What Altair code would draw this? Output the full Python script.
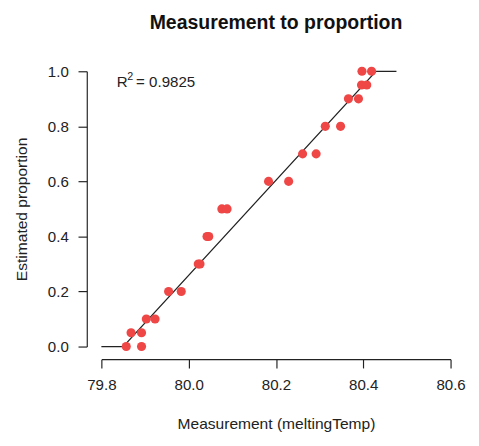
import altair as alt
import pandas as pd

# Observed measurements and their estimated proportions
measurement = [79.857, 79.892, 79.868, 79.892, 79.903, 79.923, 79.954, 79.983,
               80.022, 80.026, 80.042, 80.046, 80.076, 80.088, 80.183, 80.229,
               80.261, 80.292, 80.313, 80.348, 80.366, 80.389, 80.396, 80.408,
               80.397, 80.419]
proportion = [0.0, 0.0, 0.05, 0.05, 0.1, 0.1, 0.2, 0.2, 0.3, 0.3, 0.4, 0.4,
              0.5, 0.5, 0.6, 0.6, 0.7, 0.7, 0.8, 0.8, 0.9, 0.9, 0.95, 0.95,
              1.0, 1.0]

# Fitted (clipped linear) relation
fit_x = [79.80, 79.850, 80.429, 80.476]
fit_y = [0.0, 0.0, 1.0, 1.0]

x_ticks = [79.8, 80.0, 80.2, 80.4, 80.6]
y_ticks = [0.0, 0.2, 0.4, 0.6, 0.8, 1.0]
r2_value = "0.9825"
r2_pos = (79.835, 0.942)

pts = pd.DataFrame({"m": measurement, "p": proportion})
fit = pd.DataFrame({"m": fit_x, "p": fit_y})
anno = pd.DataFrame({"m": [r2_pos[0]], "p": [r2_pos[1]]})

FONT = "Liberation Sans"
FS = 15.5

xscale = alt.Scale(domain=[x_ticks[0], x_ticks[-1]], nice=False, zero=False)
yscale = alt.Scale(domain=[y_ticks[0], y_ticks[-1]], nice=False, zero=False)

xaxis = alt.Axis(title="Measurement (meltingTemp)", values=x_ticks, format=".1f",
                 offset=13, grid=False, tickSize=9, labelPadding=10,
                 titlePadding=24)
yaxis = alt.Axis(title="Estimated proportion", values=y_ticks, format=".1f",
                 offset=15, grid=False, tickSize=9, labelPadding=10,
                 titlePadding=18)

points = alt.Chart(pts).mark_circle(size=88, color="#EF4646", opacity=1).encode(
    x=alt.X("m:Q", scale=xscale, axis=xaxis),
    y=alt.Y("p:Q", scale=yscale, axis=yaxis),
)

line = alt.Chart(fit).mark_line(color="#222222", strokeWidth=1.3).encode(
    x=alt.X("m:Q", scale=xscale),
    y=alt.Y("p:Q", scale=yscale),
)

r_text = alt.Chart(anno).mark_text(
    text="R", align="left", baseline="alphabetic", font=FONT, fontSize=FS,
    color="#222222"
).encode(x=alt.X("m:Q", scale=xscale), y=alt.Y("p:Q", scale=yscale))

sup_text = alt.Chart(anno).mark_text(
    text="2", align="left", baseline="alphabetic", font=FONT, fontSize=11,
    color="#222222", dx=11, dy=-7
).encode(x=alt.X("m:Q", scale=xscale), y=alt.Y("p:Q", scale=yscale))

val_text = alt.Chart(anno).mark_text(
    text="= " + r2_value, align="left", baseline="alphabetic", font=FONT,
    fontSize=FS, color="#222222", dx=20
).encode(x=alt.X("m:Q", scale=xscale), y=alt.Y("p:Q", scale=yscale))

chart = alt.layer(line, points, r_text, sup_text, val_text).properties(
    width=359, height=283,
    title=alt.TitleParams("Measurement to proportion", font=FONT, fontSize=20,
                          fontWeight="bold", color="#111111", anchor="middle",
                          offset=32),
    padding={"left": 6, "top": 0, "right": 5, "bottom": 2},
).configure_view(stroke=None).configure_axis(
    domainColor="#222222", tickColor="#222222", domainWidth=1.2, tickWidth=1.2,
    labelFont=FONT, titleFont=FONT, labelFontSize=FS, titleFontSize=16,
    labelColor="#222222", titleColor="#222222", titleFontWeight="normal",
    labelFlush=False,
).configure_axisY(labelAngle=0)

chart.save("out.html", embed_options={"renderer": "svg", "actions": False})
